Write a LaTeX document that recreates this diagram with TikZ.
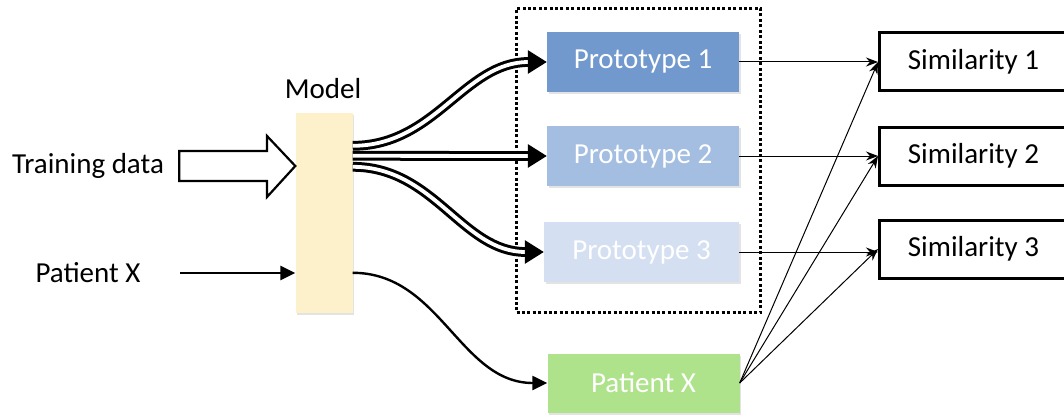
\documentclass[tikz,border=0pt]{standalone}
\usepackage{fontspec}
\setmainfont{Carlito}
\usetikzlibrary{arrows.meta,shadows,calc}
\definecolor{protoA}{HTML}{7199CD}
\definecolor{protoB}{HTML}{A4BEE2}
\definecolor{protoC}{HTML}{D4E0F1}
\definecolor{patientgreen}{HTML}{AEE38B}
\definecolor{modelfill}{HTML}{FDF1CB}
\tikzset{
  every node/.style={font=\fontsize{29}{34}\selectfont},
  softshadow/.style={drop shadow={opacity=0.22, shadow xshift=1.5pt, shadow yshift=-2pt}},
  colbox/.style={draw=none, minimum width=192pt, minimum height=60pt, text=white, softshadow},
  simbox/.style={draw=black, line width=3pt, minimum width=200pt, minimum height=58pt, anchor=west, text=black},
  dblarrow/.style={double=white, double distance=3.8pt, line width=3pt,
                   -{Triangle[length=19pt, width=23pt]}},
  thinarrow/.style={line width=1pt, -{Stealth[length=12pt, width=9pt]}},
  solidarrow/.style={line width=2.6pt, -{Triangle[length=15pt, width=14pt]}},
}
\begin{document}
\begin{tikzpicture}[x=1pt, y=-1pt]
  \useasboundingbox (0,0) rectangle (1064,417);
  \clip (0,0) rectangle (1064,417);

  % group frame around the prototypes
  \node[draw, line width=3pt, dash pattern=on 3pt off 2.4pt, minimum width=244pt,
        minimum height=304pt, inner sep=0pt] (group) at (638.5,160.5) {};

  % model
  \node[fill=modelfill, minimum width=57pt, minimum height=200pt, inner sep=0pt, softshadow]
        (model) at (324,213) {};
  \node (modellabel) at (323,89) {Model};

  % inputs
  \node (train) at (88,166) {Training data};
  \node (patientin) at (88,273) {Patient X};

  % prototypes and the patient representation
  \node[colbox, fill=protoA] (p1) at (643,62) {Prototype 1};
  \node[colbox, fill=protoB] (p2) at (643,156) {Prototype 2};
  \node[colbox, fill=protoC, minimum width=195pt] (p3) at (641.5,252) {Prototype 3};
  \node[colbox, fill=patientgreen, minimum height=59pt] (px) at (643.5,383) {Patient X};

  % similarity scores
  \node[simbox] (s1) at (878,62) {\hspace*{-12pt}Similarity 1};
  \node[simbox] (s2) at (878,156) {\hspace*{-12pt}Similarity 2};
  \node[simbox] (s3) at (878,249) {\hspace*{-12pt}Similarity 3};

  % training data enters as a hollow block arrow
  \coordinate (ta) at ([xshift=-116pt]model.west |- 0,151);
  \draw[line width=2.2pt, fill=white, line join=miter]
    (ta) -- (267,151) -- (267,136) -- (model.west |- 0,166) -- (267,197) -- (267,181)
    -- (ta |- 0,181) -- cycle;

  % patient enters the model
  \coordinate (pa) at ([xshift=-115pt]model.west |- patientin.east);
  \draw[solidarrow] (pa) -- (model.west |- patientin.east);

  % model outputs prototypes
  \draw[dblarrow] ([yshift=-33pt]model.north east) to[out=0, in=180] (p1.west);
  \draw[dblarrow] ([yshift=-43pt]model.north east) -- (p2.west);
  \draw[dblarrow] ([yshift=-54pt]model.north east) to[out=0, in=180] (p3.west);
  \draw[line width=2.4pt, -{Triangle[length=15pt, width=14pt]}]
    ([yshift=-160pt]model.north east) to[out=0, in=180] (px.west);

  % similarity comparisons
  \draw[thinarrow] (p1.east) -- (s1.west);
  \draw[thinarrow] (p2.east) -- (s2.west);
  \draw[thinarrow] (p3.east) -- (s3.west |- p3.east);
  \draw[thinarrow] (px.east) -- (s1.west);
  \draw[thinarrow] (px.east) -- (s2.west);
  \draw[thinarrow] (px.east) -- (s3.west);
\end{tikzpicture}
\end{document}
